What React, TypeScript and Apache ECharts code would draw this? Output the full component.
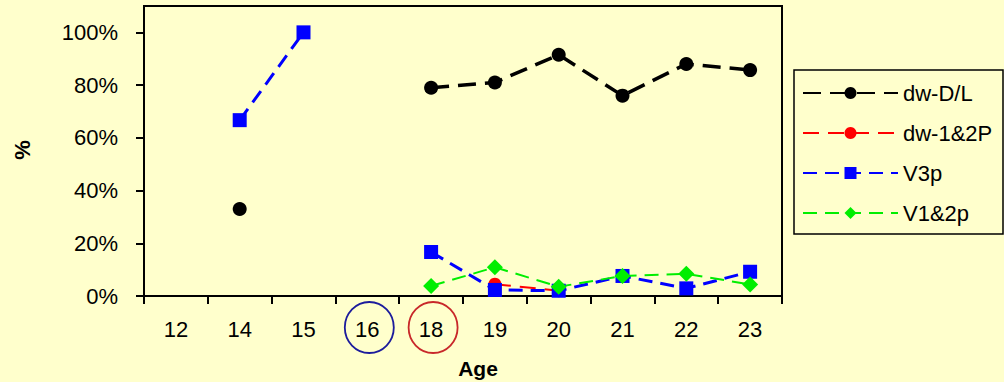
import React, { useEffect, useRef } from 'react';
import * as echarts from 'echarts';

const ages = ['12', '14', '15', '16', '18', '19', '20', '21', '22', '23'];
const dwDL = [null, 0.33, null, null, 0.79, 0.81, 0.915, 0.76, 0.88, 0.857];
const dw12P = [null, null, null, null, null, 0.045, 0.02, null, null, null];
const v3p = [null, 0.667, 1.0, null, 0.167, 0.023, 0.02, 0.076, 0.029, 0.092];
const v12p = [null, null, null, null, 0.038, 0.109, 0.035, 0.076, 0.084, 0.044];
const yTicks = [0, 0.2, 0.4, 0.6, 0.8, 1.0];
const circledAges = [
  { age: '16', color: '#1c1c9c' },
  { age: '18', color: '#c8282a' },
];

const BG = '#FFFFCC';
const FONT = 'Arial, "Liberation Sans", sans-serif';

export default function App() {
  const ref = useRef<HTMLDivElement>(null);
  useEffect(() => {
    document.body.style.margin = '0';
    document.body.style.background = BG;
    const chart = echarts.init(ref.current!, undefined, { renderer: 'svg' });
    const baseGraphic: any[] = [
      {
        type: 'text',
        x: 22,
        y: 150,
        rotation: Math.PI / 2,
        style: {
          text: '%',
          font: `bold 22px ${FONT}`,
          fill: '#000',
          align: 'center',
          verticalAlign: 'middle',
        },
      },
      {
        type: 'text',
        x: 478,
        y: 368,
        style: {
          text: 'Age',
          font: `bold 21px ${FONT}`,
          fill: '#000',
          align: 'center',
          verticalAlign: 'middle',
        },
      },
      {
        type: 'rect',
        shape: { x: 794, y: 70, width: 209, height: 164 },
        style: { fill: 'none', stroke: '#000', lineWidth: 1.5 },
      },
    ];
    const mk = (name: string, data: any[], color: string, symbol: string, size: number, width: number, dash: number[]) => ({
      name,
      type: 'line',
      data,
      symbol,
      symbolSize: size,
      connectNulls: false,
      itemStyle: { color },
      lineStyle: { color, width, type: dash },
    });
    chart.setOption({
      animation: false,
      backgroundColor: BG,
      textStyle: { fontFamily: FONT },
      grid: {
        left: 144,
        right: 222,
        top: 6,
        bottom: 86,
        show: true,
        borderColor: '#000',
        borderWidth: 2,
        backgroundColor: BG,
      },
      legend: {
        orient: 'vertical',
        left: 802,
        top: 82,
        padding: 0,
        itemWidth: 95,
        itemHeight: 15,
        itemGap: 18,
        textStyle: { fontSize: 22, color: '#000', fontFamily: FONT },
        data: ['dw-D/L', 'dw-1&2P', 'V3p', 'V1&2p'],
      },
      xAxis: {
        type: 'category',
        data: ages,
        boundaryGap: true,
        axisLine: { lineStyle: { color: '#000', width: 2 } },
        axisTick: { show: true, interval: 0, length: 8, lineStyle: { color: '#000', width: 2 } },
        axisLabel: { interval: 0, fontSize: 22, color: '#000', margin: 22, fontFamily: FONT },
        splitLine: { show: false },
      },
      yAxis: {
        type: 'value',
        min: 0,
        max: 1.1,
        interval: 0.2,
        axisLine: { show: true, lineStyle: { color: '#000', width: 2 } },
        axisTick: { show: true, length: 8, lineStyle: { color: '#000', width: 2 }, customValues: yTicks },
        axisLabel: {
          fontSize: 22,
          color: '#000',
          margin: 26,
          fontFamily: FONT,
          customValues: yTicks,
          formatter: (v: number) => `${Math.round(v * 100)}%`,
        },
        splitLine: { show: false },
      },
      series: [
        mk('dw-D/L', dwDL, '#000000', 'circle', 14, 3.5, [18, 9]),
        mk('dw-1&2P', dw12P, '#FF0000', 'circle', 13, 2, [16, 9]),
        mk('V3p', v3p, '#0000FF', 'rect', 14, 3, [14, 8]),
        mk('V1&2p', v12p, '#00EE00', 'diamond', 16, 2, [14, 8]),
      ],
      graphic: baseGraphic,
    });
    const circles = circledAges.map((c) => {
      const cx = chart.convertToPixel({ xAxisIndex: 0 }, c.age) as number;
      return {
        type: 'ellipse',
        shape: { cx: cx + 2, cy: 327.5, rx: 24.5, ry: 25.5 },
        style: { fill: 'none', stroke: c.color, lineWidth: 1.8 },
      };
    });
    chart.setOption({ graphic: [...baseGraphic, ...circles] });
    return () => chart.dispose();
  }, []);
  return <div ref={ref} style={{ width: 1004, height: 382 }} />;
}
